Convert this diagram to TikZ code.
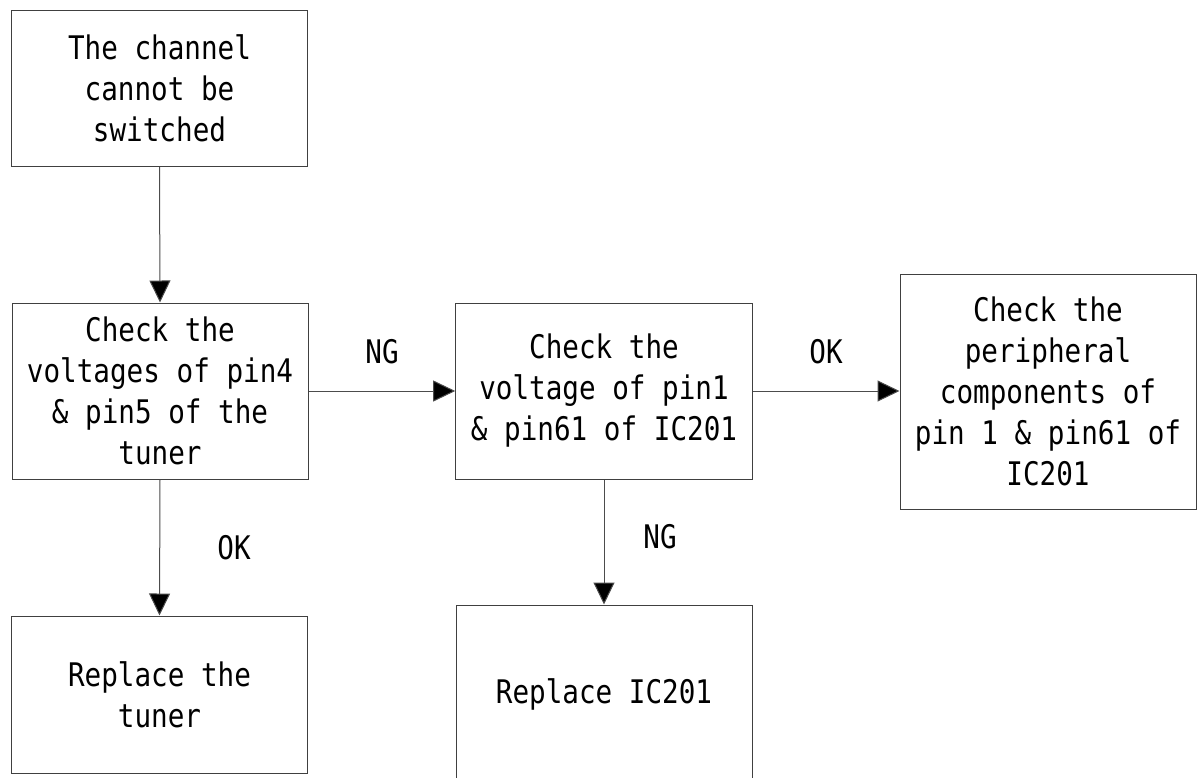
\documentclass[tikz,border=0pt]{standalone}
\usepackage{fontspec}
\newfontfamily\diagfont[FakeStretch=0.85]{DejaVu Sans Mono}
\usetikzlibrary{arrows.meta}
\tikzset{
  flowbox/.style={draw=black!75, line width=1pt, inner sep=0pt, align=center,
    font=\diagfont\fontsize{32.5}{41}\selectfont},
  flowarrow/.style={draw=black!70, line width=1pt,
    -{Triangle[length=22pt,width=21pt,fill=black]}},
  flowlabel/.style={font=\diagfont\fontsize{32.5}{41}\selectfont, inner sep=0pt}
}
\begin{document}
\begin{tikzpicture}[x=1pt,y=-1pt]
\useasboundingbox (0,0) rectangle (1197,777);
\clip (0,0) rectangle (1197,777);
\node[flowbox, minimum width=295.6pt, minimum height=156pt] (b1) at (159.5,88.7)
  {The channel\\cannot be\\switched};
\node[flowbox, minimum width=296pt, minimum height=176pt] (b2) at (160,391)
  {Check the\\voltages of pin4\\\& pin5 of the\\tuner};
\node[flowbox, minimum width=296.6pt, minimum height=176pt] (b3) at (604,391)
  {Check the\\voltage of pin1\\\& pin61 of IC201};
\node[flowbox, minimum width=296pt, minimum height=235pt] (b4) at (1048,391.5)
  {Check the\\peripheral\\components of\\pin 1 \& pin61 of\\IC201};
\node[flowbox, minimum width=295.6pt, minimum height=157pt] (b5) at (159.5,694.5)
  {Replace the\\tuner};
\node[flowbox, minimum width=296pt, minimum height=178pt] (b6) at (604,694)
  {Replace IC201};
\draw[flowarrow] (b1.south) -- (b2.north);
\draw[flowarrow] (b2.east) -- (b3.west);
\draw[flowarrow] (b3.east) -- (b4.west |- b3.east);
\draw[flowarrow] (b2.south) -- (b5.north);
\draw[flowarrow] (b3.south) -- (b6.north);
\node[flowlabel] (ng1) at (382,352) {NG};
\node[flowlabel] (ok1) at (826,352) {OK};
\node[flowlabel] (ok2) at (234,548) {OK};
\node[flowlabel] (ng2) at (660,537) {NG};
\end{tikzpicture}
\end{document}
